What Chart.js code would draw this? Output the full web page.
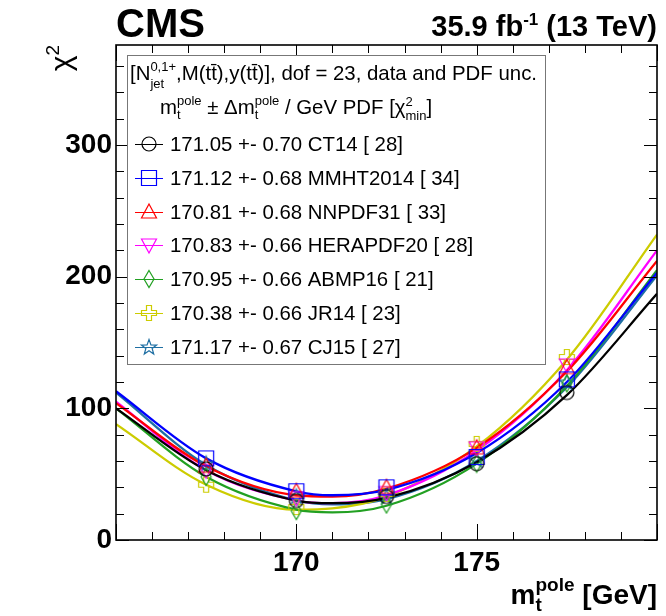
<!DOCTYPE html>
<html>
<head>
<meta charset="utf-8">
<script src="https://cdn.jsdelivr.net/npm/chart.js@4.4.0/dist/chart.umd.min.js"></script>
<style>
  html, body { margin: 0; padding: 0; background: #fff; }
  #wrap { width: 666px; height: 616px; position: relative; }
</style>
</head>
<body>
<div id="wrap"><canvas id="chi2Chart" width="666" height="616"></canvas></div>
<script>
// top-mass scan points (GeV)
const masses = [167.5, 170, 172.5, 175, 177.5];

// legend info
const pdfNames = ['CT14', 'MMHT2014', 'NNPDF31', 'HERAPDF20', 'ABMP16', 'JR14', 'CJ15'];
const mtFit = ['171.05', '171.12', '170.81', '170.83', '170.95', '170.38', '171.17'];
const mtErr = ['0.70', '0.68', '0.68', '0.66', '0.66', '0.66', '0.67'];
const chi2Min = [28, 34, 33, 28, 21, 23, 27];

// chi2 at each mass point
const ptsCT14 = [54, 30, 33, 58, 112];
const ptsMMHT = [62, 37, 40, 63, 122];
const ptsNNPDF = [56, 37, 40, 70, 131];
const ptsHERA = [53, 32, 36, 70, 133];
const ptsABMP = [48, 22, 27, 58, 119];
const ptsJR14 = [42, 25, 35, 73, 139];
const ptsCJ15 = [58, 33, 33, 61, 120];

// fitted curves at these masses
const curveX = [165, 167.5, 170, 171, 172.5, 175, 177.5, 180];
const curCT14 = [100, 53, 30, 28, 32, 59, 110, 187];
const curMMHT = [113, 62, 37, 34, 38, 66, 120, 203];
const curNNPDF = [104, 56, 34, 33, 39, 70, 128, 212];
const curHERA = [105, 53, 30, 28, 34, 68, 129, 220];
const curABMP = [100, 48, 23, 21, 26, 58, 117, 205];
const curJR14 = [88, 42, 23, 24, 33, 71, 137, 232];
const curCJ15 = [112, 57, 30, 27, 31, 60, 116, 201];

// x ticks with labels
const xLabels = [170, 175];

const FF = '"Liberation Sans", Arial, Helvetica, sans-serif';
const colors = ['#000000', '#0000ff', '#ff0000', '#ff00ff', '#22a022', '#cccc00', '#1f6fa3'];
const shapes = ['circle', 'square', 'tri', 'invtri', 'diamond', 'cross', 'star'];
const allPts = [ptsCT14, ptsMMHT, ptsNNPDF, ptsHERA, ptsABMP, ptsJR14, ptsCJ15];
const allCurves = [curCT14, curMMHT, curNNPDF, curHERA, curABMP, curJR14, curCJ15];

// open marker shapes like ROOT's
function makeMarker(shape, color) {
  const c = document.createElement('canvas');
  c.width = 20; c.height = 20;
  const g = c.getContext('2d');
  g.strokeStyle = color;
  g.lineWidth = 1.2;
  g.beginPath();
  if (shape === 'circle') {
    g.arc(10, 10, 7, 0, Math.PI * 2);
  } else if (shape === 'square') {
    g.rect(2.5, 2.5, 15, 15);
  } else if (shape === 'tri') {
    g.moveTo(10, 2); g.lineTo(17.5, 16); g.lineTo(2.5, 16); g.closePath();
  } else if (shape === 'invtri') {
    g.moveTo(10, 18); g.lineTo(17.5, 4); g.lineTo(2.5, 4); g.closePath();
  } else if (shape === 'diamond') {
    g.moveTo(10, 1.5); g.lineTo(15, 10); g.lineTo(10, 18.5); g.lineTo(5, 10); g.closePath();
  } else if (shape === 'cross') {
    const a = 2.5, b = 7.5;
    g.moveTo(10 - a, 10 - b); g.lineTo(10 + a, 10 - b); g.lineTo(10 + a, 10 - a);
    g.lineTo(10 + b, 10 - a); g.lineTo(10 + b, 10 + a); g.lineTo(10 + a, 10 + a);
    g.lineTo(10 + a, 10 + b); g.lineTo(10 - a, 10 + b); g.lineTo(10 - a, 10 + a);
    g.lineTo(10 - b, 10 + a); g.lineTo(10 - b, 10 - a); g.lineTo(10 - a, 10 - a);
    g.closePath();
  } else if (shape === 'star') {
    for (let i = 0; i < 10; i++) {
      const r = i % 2 === 0 ? 8 : 3.3;
      const ang = -Math.PI / 2 + i * Math.PI / 5;
      const px = 10 + r * Math.cos(ang), py = 10.5 + r * Math.sin(ang);
      if (i === 0) g.moveTo(px, py); else g.lineTo(px, py);
    }
    g.closePath();
  }
  g.stroke();
  return c;
}
const markers = shapes.map((s, i) => makeMarker(s, colors[i]));

const datasets = [];
pdfNames.forEach((name, i) => {
  datasets.push({
    label: name + ' points',
    data: masses.map((m, k) => ({ x: m, y: allPts[i][k] })),
    showLine: false,
    pointStyle: markers[i],
    pointRadius: 8,
    order: 0
  });
  datasets.push({
    label: name + ' fit',
    data: curveX.map((m, k) => ({ x: m, y: allCurves[i][k] })),
    showLine: true,
    borderColor: colors[i],
    borderWidth: 2.3,
    pointRadius: 0,
    cubicInterpolationMode: 'monotone',
    fill: false,
    order: 1
  });
});

// rich text helpers (sub/superscripts)
function seg(t, size, dy, bold) {
  return { t: t, f: (bold ? 'bold ' : '') + size + 'px ' + FF, dy: dy || 0 };
}
function stack(a, b) { return { st: [a, b] }; }
function partWidth(ctx, p) {
  if (p.st) return Math.max(partWidth(ctx, p.st[0]), partWidth(ctx, p.st[1]));
  ctx.font = p.f;
  return ctx.measureText(p.t).width;
}
function drawRich(ctx, x, y, parts, align) {
  const w = parts.reduce((s, p) => s + partWidth(ctx, p), 0);
  let cx = align === 'right' ? x - w : (align === 'center' ? x - w / 2 : x);
  ctx.textAlign = 'left';
  ctx.textBaseline = 'alphabetic';
  parts.forEach(p => {
    const pw = partWidth(ctx, p);
    (p.st || [p]).forEach(q => { ctx.font = q.f; ctx.fillText(q.t, cx, y + q.dy); });
    cx += pw;
  });
}

// frame + ROOT style ticks on all four sides
const framePlugin = {
  id: 'frame',
  afterDatasetsDraw(chart) {
    const ctx = chart.ctx, a = chart.chartArea;
    const xs = chart.scales.x, ys = chart.scales.y;
    ctx.save();
    ctx.strokeStyle = '#000';
    ctx.lineWidth = 1;
    ctx.beginPath();
    for (let v = 165; v <= 180; v += 1) {
      const px = Math.round(xs.getPixelForValue(v)) + 0.5;
      const len = v % 5 === 0 ? 16 : 8;
      ctx.moveTo(px, a.bottom); ctx.lineTo(px, a.bottom - len);
      ctx.moveTo(px, a.top); ctx.lineTo(px, a.top + len);
    }
    for (let v = 0; v <= ys.max; v += 20) {
      const py = Math.round(ys.getPixelForValue(v)) + 0.5;
      const len = v % 100 === 0 ? 13 : 8;
      ctx.moveTo(a.left, py); ctx.lineTo(a.left + len, py);
      ctx.moveTo(a.right, py); ctx.lineTo(a.right - len, py);
    }
    ctx.stroke();
    ctx.lineWidth = 1.6;
    ctx.strokeRect(a.left, a.top, a.right - a.left, a.bottom - a.top);
    ctx.restore();
  },
  afterDraw(chart) {
    const ctx = chart.ctx, a = chart.chartArea;
    ctx.save();
    ctx.fillStyle = '#000';

    // CMS and luminosity labels
    drawRich(ctx, a.left, 37, [seg('CMS', 40, 0, true)], 'left');
    drawRich(ctx, a.right, 36, [seg('35.9 fb', 29, 0, true), seg('-1', 17, -11, true), seg(' (13 TeV)', 29, 0, true)], 'right');

    // x axis title
    drawRich(ctx, a.right, 604, [seg('m', 28, 0, true), stack(seg('pole', 19, -13, true), seg('t', 19, 7, true)), seg(' [GeV]', 28, 0, true)], 'right');

    // y axis title, rotated
    ctx.save();
    ctx.translate(71, a.top);
    ctx.rotate(-Math.PI / 2);
    drawRich(ctx, 0, 0, [seg('\u03c7', 30, 0, false), seg('2', 19, -12, false)], 'right');
    ctx.restore();

    // legend box
    const lx = 127, ly = 55, lw = 418, lh = 309;
    const LF = 20.4;
    ctx.fillStyle = '#fff';
    ctx.fillRect(lx, ly, lw, lh);
    ctx.strokeStyle = '#777';
    ctx.lineWidth = 1;
    ctx.strokeRect(lx + 0.5, ly + 0.5, lw, lh);
    ctx.fillStyle = '#000';
    drawRich(ctx, 130, 80, [
      seg('[N', LF), stack(seg('0,1+', 13, -9), seg('jet', 13, 8)),
      seg(',M(t\u0074\u0304),y(t\u0074\u0304)], dof = 23, data and PDF unc.', LF)
    ], 'left');
    drawRich(ctx, 160, 114, [
      seg('m', LF), stack(seg('pole', 13, -9), seg('t', 13, 5)),
      seg(' \u00b1 \u0394m', LF), stack(seg('pole', 13, -9), seg('t', 13, 5)),
      seg(' / GeV PDF [\u03c7', LF), stack(seg('2', 13, -8), seg('min', 13, 6)), seg(']', LF)
    ], 'left');
    pdfNames.forEach((name, i) => {
      const cy = 144 + i * 33.8;
      ctx.strokeStyle = colors[i];
      ctx.lineWidth = 1;
      ctx.beginPath();
      ctx.moveTo(135, Math.round(cy) + 0.5); ctx.lineTo(163, Math.round(cy) + 0.5);
      ctx.stroke();
      ctx.drawImage(markers[i], 149 - 10, Math.round(cy) - 10);
      drawRich(ctx, 170, cy + 7, [seg(mtFit[i] + ' +- ' + mtErr[i] + ' ' + name + ' [ ' + chi2Min[i] + ']', LF)], 'left');
    });
    ctx.restore();
  }
};

const ctx = document.getElementById('chi2Chart').getContext('2d');
const chi2Chart = new Chart(ctx, {
  type: 'scatter',
  data: { datasets: datasets },
  options: {
    responsive: false,
    animation: false,
    events: [],
    layout: { padding: { left: 0, right: 7, top: 45, bottom: 0 } },
    plugins: { legend: { display: false }, tooltip: { enabled: false } },
    scales: {
      x: {
        type: 'linear', min: 165, max: 180,
        grid: { display: false, drawTicks: false },
        border: { display: false },
        ticks: {
          stepSize: 5,
          autoSkip: false,
          maxRotation: 0,
          padding: 6,
          color: '#000',
          font: { family: FF, size: 28, weight: 'bold' },
          callback: v => xLabels.includes(v) ? String(v) : ''
        },
        afterFit: s => { s.height = 76; }
      },
      y: {
        type: 'linear', min: 0, max: 376,
        grid: { display: false, drawTicks: false },
        border: { display: false },
        ticks: {
          stepSize: 100,
          autoSkip: false,
          padding: 4,
          color: '#000',
          font: { family: FF, size: 28, weight: 'bold' },
          callback: v => v % 100 === 0 ? String(v) : ''
        },
        afterFit: s => { s.height; s.width = 116; }
      }
    }
  },
  plugins: [framePlugin]
});
</script>
</body>
</html>
